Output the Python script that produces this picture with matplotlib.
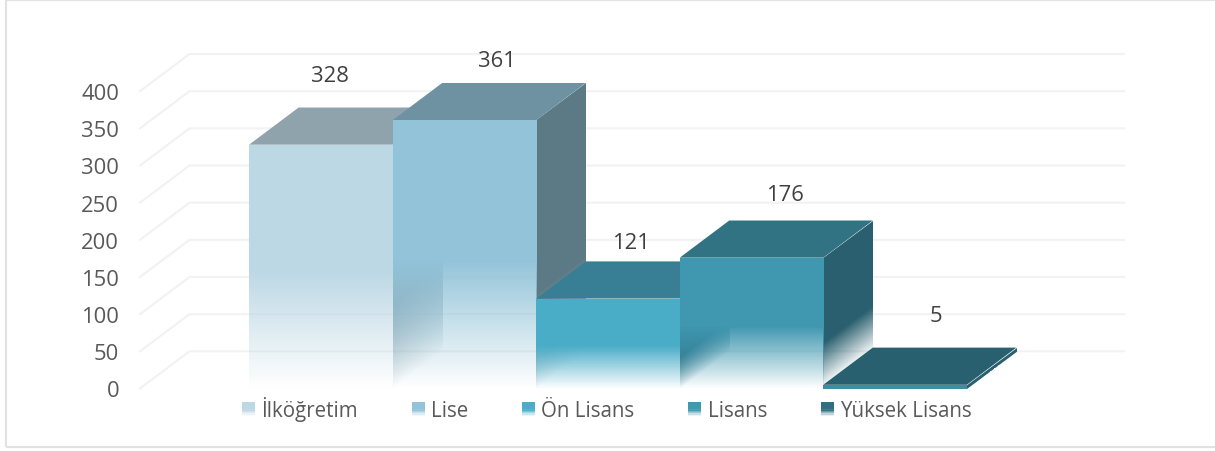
#!/usr/bin/python

import numpy as np
import matplotlib
matplotlib.use('Agg')
import matplotlib.pyplot as plt
from matplotlib.colors import to_rgb
from matplotlib.legend_handler import HandlerBase
from matplotlib.patches import Patch, Polygon, Rectangle
from matplotlib.transforms import Affine2D

plt.rcParams['font.family'] = ['Open Sans', 'DejaVu Sans']

categories = ['İlköğretim', 'Lise', 'Ön Lisans', 'Lisans', 'Yüksek Lisans']
values = [328, 361, 121, 176, 5]
y_ticks = [0, 50, 100, 150, 200, 250, 300, 350, 400]

front_colors = ['#BDD8E5', '#92C3D8', '#4AADC8', '#3F97B0', '#3C8EA5']
top_colors = ['#8FA3AC', '#6E92A2', '#387F95', '#317283', '#296070']
side_colors = ['#8FA3AC', '#5C7A86', '#2F6F83', '#295F6E', '#296070']
legend_colors = ['#BDD8E5', '#92C3D8', '#4AADC8', '#3F97B0', '#2E6F82']

# depth of the 3d box in data units
depth_x = 0.345
depth_y = 50
text_color = '#595959'
grid_color = '#F2F2F2'

# label offsets from the centre of the bar top, the original has them uneven
label_dx = [0.064, 0.227, 0.16, 0.233, 0.284]
label_dy = [93, 80, 76, 85, 93]


def fade(color, stop, n=256):
    """Vertical RGBA strip, transparent at the bottom, solid above stop."""
    strip = np.ones((n, 1, 4))
    strip[:, :, :3] = to_rgb(color)
    strip[:, 0, 3] = np.clip(np.linspace(0, 1, n) / stop, 0, 1)
    return strip


class FadeHandler(HandlerBase):
    """Legend key drawn as a small square which fades out at the bottom."""
    def create_artists(self, legend, handle, xdescent, ydescent, width, height,
                       fontsize, trans):
        steps = 10
        artists = []
        for k in range(steps):
            alpha = min(1, (k + 0.5) / steps / 0.5)
            artists.append(Rectangle((-xdescent, -ydescent + height * k / steps),
                                     width, height / steps + 0.1,
                                     facecolor=handle.get_facecolor(), alpha=alpha,
                                     edgecolor='none', transform=trans))
        return artists


fig = plt.figure(figsize=(12.15, 4.52), dpi=100)
W, H = 1215, 452
ax = fig.add_axes([140 / W, (H - 389.5) / H, 984 / W, 334.5 / H])
ax.set_facecolor('none')

# outer frame of the picture, it runs off at the right
fig.add_artist(Rectangle((6 / W, 4 / H), 1215 / W, 447 / H, transform=fig.transFigure,
                         facecolor='none', edgecolor='#E2E2E2', linewidth=1.5))

x_left = -0.76
x_right = 5.75

for tick in y_ticks:
    ax.plot([x_left, x_left + depth_x, x_right + depth_x],
            [tick, tick + depth_y, tick + depth_y],
            color=grid_color, linewidth=1.5, zorder=1, clip_on=False,
            solid_joinstyle='miter')

z = 2
for i, value in enumerate(values):
    # the flat last bar does not fade at all
    side_stop = 0.35 if value > 20 else 0.01
    front_stop = 0.48 if value > 20 else 0.01
    # right side, sheared so that the fade follows the box
    shear = Affine2D(np.array([[depth_x, 0, i + 1], [depth_y, 1, 0], [0, 0, 1]]))
    ax.imshow(fade(side_colors[i], side_stop), extent=(0, 1, 0, value), origin='lower',
              aspect='auto', interpolation='nearest', zorder=z,
              transform=shear + ax.transData, clip_on=False)
    # top
    ax.add_patch(Polygon([(i, value), (i + 1, value),
                          (i + 1 + depth_x, value + depth_y), (i + depth_x, value + depth_y)],
                         facecolor=top_colors[i], edgecolor='none', zorder=z + 1,
                         clip_on=False))
    # front
    ax.imshow(fade(front_colors[i], front_stop), extent=(i, i + 1, 0, value), origin='lower',
              aspect='auto', interpolation='nearest', zorder=z + 2, clip_on=False)
    z += 3

for i, value in enumerate(values):
    ax.text(i + 0.5 + label_dx[i], value + label_dy[i], str(value), color='#404040',
            fontsize=15.8, ha='center', va='center', zorder=30)

ax.set_xlim(x_left, x_right + depth_x)
ax.set_ylim(0, 450)
ax.set_xticks([])
ax.set_yticks(y_ticks)
ax.tick_params(axis='y', length=0, pad=15, labelsize=15.8, labelcolor=text_color)
for spine in ax.spines.values():
    spine.set_visible(False)

handles = [Patch(facecolor=c, label=n) for c, n in zip(legend_colors, categories)]
ax.legend(handles=handles, handler_map={Patch: FadeHandler()}, ncols=5, frameon=False,
          loc='center', bbox_to_anchor=(607 / W, (H - 410) / H), bbox_transform=fig.transFigure,
          fontsize=14.8, labelcolor=text_color, handlelength=0.63, handleheight=0.63,
          handletextpad=0.3, columnspacing=2.62, borderaxespad=0, borderpad=0)

fig.savefig('out.png', dpi=100)
